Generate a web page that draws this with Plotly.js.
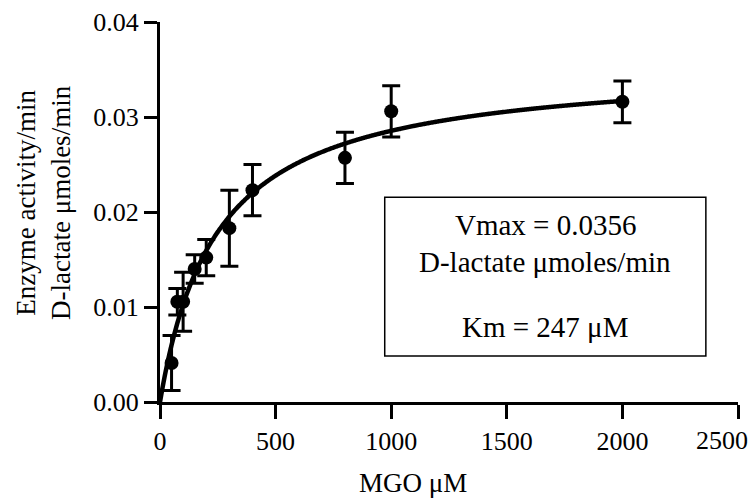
<!DOCTYPE html>
<html>
<head>
<meta charset="utf-8">
<script src="https://cdn.plot.ly/plotly-3.0.1.min.js"></script>
<style>
  html, body { margin: 0; padding: 0; background: #ffffff; }
  #chart { width: 751px; height: 501px; }
</style>
</head>
<body>
<div id="chart"></div>
<script>
// Substrate concentrations (MGO, µM)
var mgo = [50, 75, 100, 150, 200, 300, 400, 800, 1000, 2000];
// Mean enzyme activity (D-lactate µmoles/min)
var activity = [0.0041, 0.01055, 0.01055, 0.0140, 0.0152, 0.0183, 0.0223, 0.0257, 0.0306, 0.0316];
// Error bar half-lengths
var activityErr = [0.0029, 0.0014, 0.0031, 0.0015, 0.0019, 0.0040, 0.0027, 0.0027, 0.0027, 0.0022];
// Michaelis-Menten fit parameters
var VMAX = 0.0356;
var KM = 247;
// Axis ticks
var xTicks = [0, 500, 1000, 1500, 2000, 2500];
var yTicks = [0.00, 0.01, 0.02, 0.03, 0.04];

// Fitted curve V = Vmax*S/(Km+S) sampled across the measured range
var fitX = [], fitY = [];
for (var s = 0; s <= 2000; s += 5) {
  fitX.push(s);
  fitY.push(VMAX * s / (KM + s));
}

var FONT = 'Liberation Serif, Times New Roman, serif';

// The last x label sits at the right edge of the figure, so it is drawn
// right-aligned to the page edge instead of centred under its tick.
var lastX = xTicks[xTicks.length - 1];
var xTickText = xTicks.map(function (v) { return v === lastX ? '' : String(v); });

var traces = [
  {
    x: fitX, y: fitY, type: 'scatter', mode: 'lines',
    line: { color: '#000', width: 4.5, shape: 'spline' },
    hoverinfo: 'skip', cliponaxis: false
  },
  {
    x: mgo, y: activity, type: 'scatter', mode: 'markers',
    marker: { color: '#000', size: 14 },
    error_y: { type: 'data', array: activityErr, visible: true,
               color: '#000', thickness: 3, width: 9 },
    cliponaxis: false
  }
];

var layout = {
  width: 751, height: 501,
  margin: { l: 160, r: 13, t: 22, b: 99 },
  paper_bgcolor: '#fff', plot_bgcolor: '#fff',
  showlegend: false,
  font: { family: FONT, color: '#000', size: 26 },
  xaxis: {
    range: [0, 2500], tickvals: xTicks, ticktext: xTickText,
    showgrid: false, zeroline: false,
    showline: true, linecolor: '#000', linewidth: 3,
    ticks: 'outside', ticklen: 14, tickwidth: 3, tickcolor: '#000',
    tickfont: { family: FONT, size: 26, color: '#000' }
  },
  yaxis: {
    range: [0, 0.04], tickvals: yTicks, ticktext: yTicks.map(function (v) { return v.toFixed(2); }),
    showgrid: false, zeroline: false,
    showline: true, linecolor: '#000', linewidth: 3,
    ticks: 'outside', ticklen: 13, tickwidth: 3, tickcolor: '#000',
    tickfont: { family: FONT, size: 26, color: '#000' }
  },
  shapes: [
    { type: 'rect', xref: 'x', yref: 'y', x0: 972, x1: 2361, y0: 0.00484, y1: 0.02156,
      line: { color: '#000', width: 1.5 }, fillcolor: 'rgba(0,0,0,0)' }
  ],
  annotations: [
    { xref: 'paper', yref: 'paper', x: 1, y: -0.1025, xshift: 11, text: String(lastX),
      showarrow: false, xanchor: 'right', yanchor: 'middle', borderpad: 0,
      font: { family: FONT, size: 26, color: '#000' } },
    { xref: 'x', yref: 'y', x: 1667, y: 0.01862, text: 'Vmax = 0.0356', showarrow: false,
      xanchor: 'center', yanchor: 'middle',
      font: { family: FONT, size: 29, color: '#000' } },
    { xref: 'x', yref: 'y', x: 1667, y: 0.01472, text: 'D-lactate \u03bcmoles/min', showarrow: false,
      xanchor: 'center', yanchor: 'middle',
      font: { family: FONT, size: 29, color: '#000' } },
    { xref: 'x', yref: 'y', x: 1667, y: 0.00789, text: 'Km = 247 \u03bcM', showarrow: false,
      xanchor: 'center', yanchor: 'middle',
      font: { family: FONT, size: 29, color: '#000' } },
    { xref: 'x', yref: 'paper', x: 1093, y: -0.213, text: 'MGO \u03bcM', showarrow: false,
      xanchor: 'center', yanchor: 'middle',
      font: { family: FONT, size: 27, color: '#000' } },
    { xref: 'paper', yref: 'paper', x: -0.2026, y: 0.526, textangle: -90,
      xanchor: 'center', yanchor: 'middle',
      text: 'Enzyme activity/min<br>D-lactate \u03bcmoles/min', showarrow: false,
      font: { family: FONT, size: 27, color: '#000' } }
  ]
};

Plotly.newPlot('chart', traces, layout, { displayModeBar: false, staticPlot: true });
</script>
</body>
</html>
